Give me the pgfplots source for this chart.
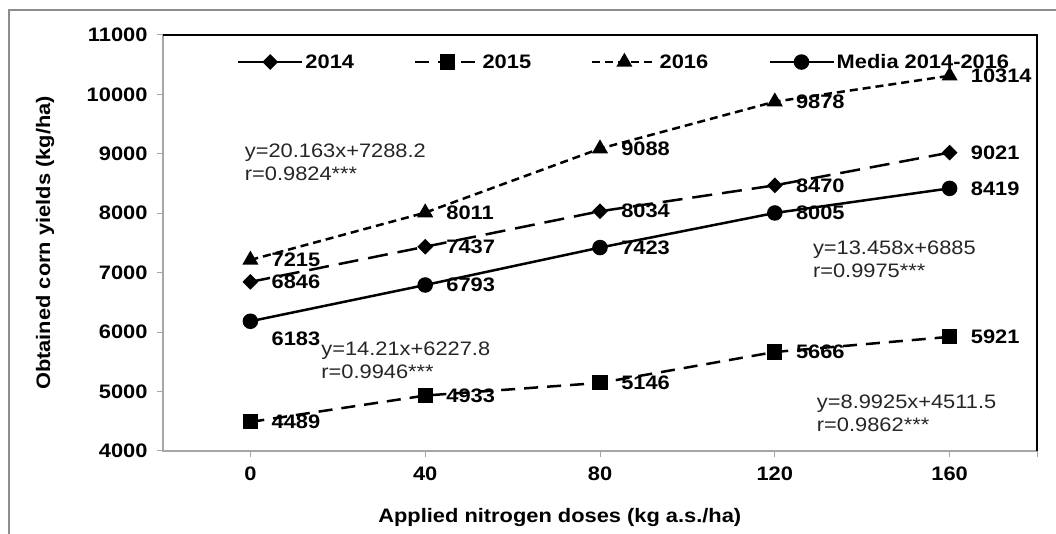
\documentclass[border=0pt]{standalone}
\usepackage{fontspec}
\setmainfont{Liberation Sans}[FakeStretch=1.12]
\usepackage{pgfplots}
\pgfplotsset{compat=1.18}
\usepackage{pgfplotstable}

\definecolor{axgray}{HTML}{A6A6A6}
\definecolor{framegray}{HTML}{8C8C8C}
\definecolor{eqcol}{HTML}{262626}

\pgfplotstableread{
x y
0 6846
40 7437
80 8034
120 8470
160 9021
}\tabA
\pgfplotstableread{
x y
0 4489
40 4933
80 5146
120 5666
160 5921
}\tabB
\pgfplotstableread{
x y
0 7215
40 8011
80 9088
120 9878
160 10314
}\tabC
\pgfplotstableread{
x y dy
0 6183 -18
40 6793 0
80 7423 0
120 8005 0
160 8419 0
}\tabM

\newcommand{\bigfont}{\fontsize{19.5}{23}\selectfont}

\begin{document}
\begin{tikzpicture}
\path[use as bounding box] (0,0) rectangle (1056pt,534pt);
\draw[framegray, line width=2pt] (9pt,-5pt) -- (9pt,524pt) -- (1061pt,524pt);
\begin{axis}[
  at={(163pt,83pt)}, anchor=south west,
  scale only axis, width=874pt, height=416pt,
  xmin=-20, xmax=180, ymin=4000, ymax=11000,
  xtick={0,40,80,120,160}, extra x ticks={180}, extra x tick labels={},
  ytick={4000,5000,...,11000},
  scaled y ticks=false,
  tick align=outside, xtick pos=lower, ytick pos=left,
  major tick length=6pt,
  tick style={axgray, line width=1pt},
  axis line style={axgray, line width=1.2pt},
  /pgf/number format/1000 sep={},
  /pgf/number format/assume math mode=true,
  ticklabel style={font=\bigfont\bfseries},
  yticklabel style={xshift=-6pt},
  xticklabel style={yshift=-6pt},
  xlabel={Applied nitrogen doses (kg a.s./ha)},
  ylabel={Obtained corn yields (kg/ha)},
  label style={font=\bigfont\bfseries},
  xlabel style={at={(axis description cs:0.454,-0.159)}, anchor=center},
  ylabel style={at={(axis description cs:-0.135,0.5)}, anchor=center},
  clip=false,
  legend image code/.code={\draw[mark repeat=2,mark phase=2,#1] plot coordinates {(0pt,0pt)(32pt,0pt)(64pt,0pt)};},
  legend style={at={(axis description cs:0.081,0.935)}, anchor=west, draw=none, fill=none,
    font=\bigfont\bfseries, legend columns=4,
    /tikz/every even column/.append style={column sep=58pt}},
  nodes near coords,
  nodes near coords style={anchor=west, xshift=20pt, inner sep=0pt, font=\bigfont\bfseries, black},
]
\addplot[black, line width=2.5pt, dash pattern=on 20pt off 10pt, mark=square*, mark size=4.3pt, mark options={solid, rotate=45}, legend image post style={solid}] table[x=x,y=y] {\tabA};
\addlegendentry{2014}
\addplot[black, line width=2.5pt, dash pattern=on 14pt off 9pt, mark=square*, mark size=6.3pt, mark options={solid}] table[x=x,y=y] {\tabB};
\addlegendentry{2015}
\addplot[black, line width=2.5pt, dash pattern=on 8pt off 5pt, mark=triangle*, mark size=6.8pt, mark options={solid}] table[x=x,y=y] {\tabC};
\addlegendentry{2016}
\addplot[black, line width=2.5pt, mark=*, mark size=6.5pt,
  visualization depends on={\thisrow{dy} \as \dy},
  nodes near coords style={yshift=\dy}] table[x=x,y=y] {\tabM};
\addlegendentry{Media 2014-2016}

\draw[black, line width=1.3pt] (rel axis cs:0,1) -- (rel axis cs:1,1) -- (rel axis cs:1,0);

\node[anchor=west, align=left, inner sep=0pt, font=\bigfont, eqcol] at (axis cs:-1.3,8855) {y=20.163x+7288.2\\r=0.9824***};
\node[anchor=west, align=left, inner sep=0pt, font=\bigfont, eqcol] at (axis cs:16.2,5531) {y=14.21x+6227.8\\r=0.9946***};
\node[anchor=west, align=left, inner sep=0pt, font=\bigfont, eqcol] at (axis cs:128.7,7231) {y=13.458x+6885\\r=0.9975***};
\node[anchor=west, align=left, inner sep=0pt, font=\bigfont, eqcol] at (axis cs:129.6,4631) {y=8.9925x+4511.5\\r=0.9862***};
\end{axis}
\end{tikzpicture}
\end{document}
